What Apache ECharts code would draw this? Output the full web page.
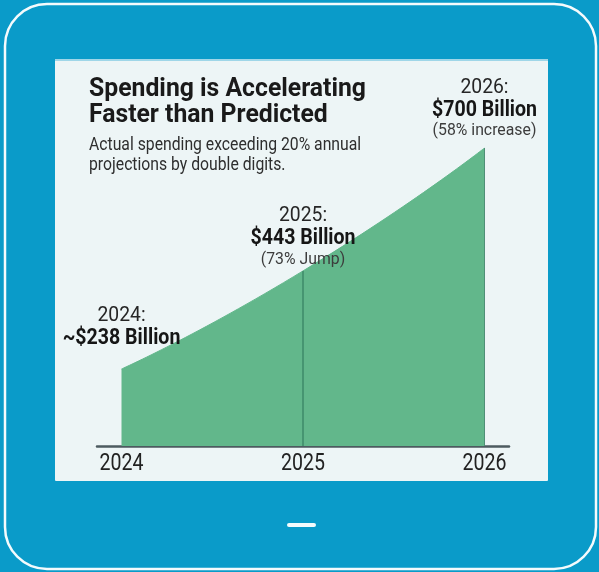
<!DOCTYPE html>
<html>
<head>
<meta charset="utf-8">
<script src="https://cdn.jsdelivr.net/npm/echarts@6/dist/echarts.min.js"></script>
<style>
  html, body { margin: 0; padding: 0; background: #0a9bc9; }
  #chart { width: 599px; height: 572px; }
</style>
</head>
<body>
<div id="chart"></div>
<script>
// ---- data ----
var years = ['2024', '2025', '2026'];
var spending = [238, 443, 700];            // $ billions
var yearLabels = ['2024:', '2025:', '2026:'];
var valueLabels = ['~$238 Billion', '$443 Billion', '$700 Billion'];
var changeLabels = ['', '(73% Jump)', '(58% increase)'];
var titleLines = ['Spending is Accelerating', 'Faster than Predicted'];
var subtitleLines = ['Actual spending exceeding 20% annual', 'projections by double digits.'];

var FONT = "Roboto, 'Noto Sans', sans-serif";

var chart = echarts.init(document.getElementById('chart'), null, { renderer: 'canvas' });

var seriesData = spending.map(function (v, i) { return [i, v]; });

var option = {
  backgroundColor: '#0a9bc9',
  animation: false,
  textStyle: { fontFamily: FONT },
  grid: { left: 97, right: 90, top: 148, bottom: 126 },
  xAxis: {
    type: 'value',
    min: -0.135, max: 2.135,
    splitLine: { show: false },
    axisTick: { show: false },
    axisLine: { show: true, lineStyle: { color: '#4d5b60', width: 2.5 } },
    axisLabel: { show: false }
  },
  yAxis: {
    type: 'value',
    min: 77, max: 700,
    show: false,
    splitLine: { show: false }
  },
  series: [{
    type: 'line',
    data: seriesData,
    smooth: 0.6,
    symbol: 'none',
    lineStyle: { color: '#62b78b', width: 1 },
    areaStyle: { color: '#62b78b', opacity: 1, origin: 'start' },
    markLine: {
      silent: true,
      symbol: 'none',
      label: { show: false },
      lineStyle: { type: 'solid' },
      data: [
        [{ coord: [1, 77], lineStyle: { color: '#3e8a69', width: 1.5, type: 'solid' } }, { coord: [1, spending[1]] }],
        [{ coord: [2, 77], lineStyle: { color: '#4f8f76', width: 1, type: 'solid' } }, { coord: [2, spending[2]] }]
      ]
    },
    z: 3
  }]
};
chart.setOption(option);

// ---- frame, panel, texts ----
var g = [
  { type: 'rect', z: -10, silent: true,
    shape: { x: 5, y: 4, width: 591, height: 565, r: 42 },
    style: { fill: '#0a9bc9', stroke: '#f4fbfd', lineWidth: 2.5 } },
  { type: 'rect', z: -9, silent: true,
    shape: { x: 55, y: 59, width: 493, height: 422, r: 1 },
    style: { fill: '#edf5f6' } },
  { type: 'rect', z: -8, silent: true,
    shape: { x: 55, y: 59, width: 493, height: 2 },
    style: { fill: '#9fd6e8' } },
  { type: 'rect', z: -8, silent: true,
    shape: { x: 287, y: 523, width: 29, height: 4, r: 2 },
    style: { fill: '#f4fbfd' } }
];
function txt(s, x, y, size, weight, color, align, sx) {
  return { type: 'text', z: 10, silent: true, x: x, y: y, scaleX: sx,
    style: { text: s, fontFamily: FONT, fontSize: size, fontWeight: weight, fill: color,
             align: align || 'center', verticalAlign: 'middle' } };
}
// title and subtitle
g.push(txt(titleLines[0], 89, 90, 25, 'bold', '#1a1a1a', 'left', 0.99));
g.push(txt(titleLines[1], 89, 116, 25, 'bold', '#1a1a1a', 'left', 0.99));
g.push(txt(subtitleLines[0], 89, 146, 17.5, 'normal', '#2e2e2e', 'left', 0.9));
g.push(txt(subtitleLines[1], 89, 166, 17.5, 'normal', '#2e2e2e', 'left', 0.9));

// year labels under the axis and annotations, placed through the axis scale
var baseY = chart.convertToPixel({ xAxisIndex: 0, yAxisIndex: 0 }, [0, 77])[1];
var yPos = [[316, 338, 0], [216, 238, 260], [88, 110, 131]];
for (var i = 0; i < years.length; i++) {
  var px = chart.convertToPixel({ xAxisIndex: 0, yAxisIndex: 0 }, [i, spending[i]]);
  g.push(txt(years[i], px[0], baseY + 18.5, 23, 'normal', '#222', 'center', 0.85));
  g.push(txt(yearLabels[i], px[0], yPos[i][0], 21, 'normal', '#262626', 'center', 0.92));
  g.push(txt(valueLabels[i], px[0], yPos[i][1], 22, 'bold', '#161616', 'center', 0.89));
  if (changeLabels[i]) {
    g.push(txt(changeLabels[i], px[0], yPos[i][2], 17, 'normal', '#3c3c3c', 'center', 0.93));
  }
}
chart.setOption({ graphic: g });
</script>
</body>
</html>
